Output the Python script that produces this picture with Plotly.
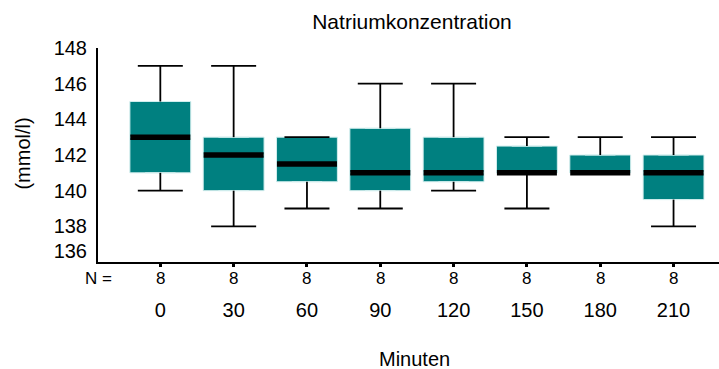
import plotly.graph_objects as go

# ---- data ----
minutes = ["0", "30", "60", "90", "120", "150", "180", "210"]
whisker_low = [140, 138, 139, 139, 140, 139, 141, 138]
q1 = [141, 140, 140.5, 140, 140.5, 141, 141, 139.5]
median = [143, 142, 141.5, 141, 141, 141, 141, 141]
q3 = [145, 143, 143, 143.5, 143, 142.5, 142, 142]
whisker_high = [147, 147, 143, 146, 146, 143, 143, 143]
n_counts = [8, 8, 8, 8, 8, 8, 8, 8]
y_tick_labels = ["136", "138", "140", "142", "144", "146", "148"]

FONT = "Liberation Sans, Arial, sans-serif"
TEAL = "#008080"
LINE_EW = 1.4  # plotly draws line-ew markers 1.4 x size long

fig = go.Figure()

# boxes (Q1..Q3)
fig.add_trace(go.Box(
    x=minutes, q1=q1, median=median, q3=q3,
    lowerfence=q1, upperfence=q3,
    fillcolor=TEAL, line=dict(color="#d2eeee", width=1),
    width=0.83, boxpoints=False, showlegend=False, hoverinfo="skip",
))

# whisker stems
wx, wy = [], []
for c, lo, a, b, hi in zip(minutes, whisker_low, q1, q3, whisker_high):
    wx += [c, c, None, c, c, None]
    wy += [hi, b, None, a, lo, None]
fig.add_trace(go.Scatter(x=wx, y=wy, mode="lines",
                         line=dict(color="black", width=1.8),
                         showlegend=False, hoverinfo="skip"))

# whisker caps
fig.add_trace(go.Scatter(
    x=minutes + minutes, y=whisker_high + whisker_low, mode="markers",
    marker=dict(symbol="line-ew", size=45 / LINE_EW, line=dict(color="black", width=1.8)),
    showlegend=False, hoverinfo="skip"))

# medians
fig.add_trace(go.Scatter(
    x=minutes, y=median, mode="markers",
    marker=dict(symbol="line-ew", size=60 / LINE_EW, line=dict(color="black", width=5.5)),
    showlegend=False, hoverinfo="skip"))

annotations = []
for i, n in enumerate(n_counts):
    annotations.append(dict(x=i, y=-0.079, xref="x", yref="paper", text=str(n),
                            showarrow=False, xanchor="center", yanchor="middle",
                            font=dict(size=17, color="black", family=FONT)))
annotations.append(dict(x=0, y=-0.079, xref="paper", yref="paper", text="N =",
                        showarrow=False, xanchor="center", yanchor="middle",
                        font=dict(size=17, color="black", family=FONT)))
annotations.append(dict(x=-0.12, y=0.509, xref="paper", yref="paper", text="(mmol/l)",
                        showarrow=False, textangle=-90, xanchor="center", yanchor="middle",
                        font=dict(size=20, color="black", family=FONT)))
annotations.append(dict(x=0.509, y=-0.453, xref="paper", yref="paper", text="Minuten",
                        showarrow=False, xanchor="center", yanchor="middle",
                        font=dict(size=20, color="black", family=FONT)))

tickvals = [136.6] + [138, 140, 142, 144, 146, 148]

fig.update_layout(
    width=719, height=369,
    margin=dict(l=98, r=0, t=48, b=107),
    plot_bgcolor="white", paper_bgcolor="white",
    font=dict(family=FONT, color="black"),
    title=dict(text="Natriumkonzentration", x=412 / 719, xref="container", xanchor="center",
               y=1 - 22 / 369, yref="container", yanchor="middle",
               font=dict(size=21, color="black", family=FONT)),
    xaxis=dict(type="category", categoryorder="array", categoryarray=minutes,
               range=[-0.85, 7.62], showline=True, linecolor="black", linewidth=2,
               showgrid=False, zeroline=False, ticks="outside", ticklen=3, tickwidth=3,
               tickcolor="black", ticklabelstandoff=26, automargin=False,
               tickfont=dict(size=20, color="black", family=FONT)),
    yaxis=dict(range=[136, 148], showline=True, linecolor="black", linewidth=2,
               showgrid=False, zeroline=False, ticks="", automargin=False,
               tickvals=tickvals, ticktext=y_tick_labels, ticklabelstandoff=5,
               tickfont=dict(size=20, color="black", family=FONT)),
    annotations=annotations,
)

fig.write_html(
    "out.html",
    config={"displayModeBar": False},
    post_script="document.body.style.margin='0';document.body.style.overflow='hidden';",
)
